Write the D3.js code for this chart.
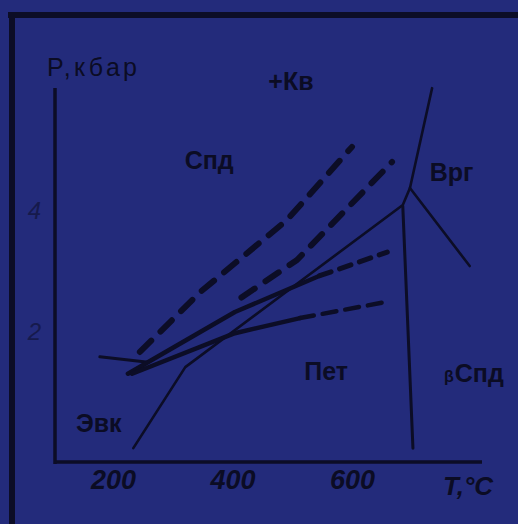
<!DOCTYPE html>
<html>
<head>
<meta charset="utf-8">
<script src="https://cdn.jsdelivr.net/npm/d3@7"></script>
<style>
  html, body { margin: 0; padding: 0; background: #232b7b; }
  svg { display: block; }
  text { font-family: "Liberation Sans", Arial, sans-serif; fill: #0b0c24; }
</style>
</head>
<body>
<svg id="chart" width="518" height="524"></svg>
<script>
// ---- data (T in °C, P in kbar) ----
const tempTicks = [200, 400, 600];
const presTicks = [2, 4];

const lineHoriz   = [[178, 1.59], [259, 1.50]];
const lineDash1   = [[245, 1.67], [346, 2.66], [491, 3.85], [600, 5.06]];
const lineDash2   = [[415, 2.57], [508, 3.19], [667, 4.81]];
const lineBound   = [[234, 0.08], [321, 1.42], [685, 4.10], [697, 4.38], [734, 6.03]];
const line4Solid  = [[225, 1.31], [404, 2.33], [546, 2.93]];
const line4Dash   = [[546, 2.93], [659, 3.32]];
const line5Solid  = [[232, 1.31], [404, 1.98], [513, 2.23]];
const line5Dash   = [[513, 2.23], [664, 2.51]];
const lineRight   = [[697, 4.38], [797, 3.09]];
const lineVert    = [[685, 4.08], [702, 0.08]];

const fieldLabels = [
  { text: "Спд", T: 320, P: 4.7 },
  { text: "Врг", T: 730, P: 4.5 },
  { text: "Пет", T: 520, P: 1.2 },
  { text: "Спд", T: 772, P: 1.17 },
  { text: "Эвк", T: 138, P: 0.35 },
  { text: "+Кв", T: 460, P: 6.0 }
];

// ---- scales ----
const svg = d3.select("#chart");
const x = d3.scaleLinear().domain([200, 600]).range([113, 352]);
const y = d3.scaleLinear().domain([0, 4]).range([453, 211]);
const plot = { left: 55, right: 482, top: 88, bottom: 462 };
const ink = "#0c0d26";

// outer photo frame
svg.append("line").attr("x1", 8).attr("x2", 518).attr("y1", 15).attr("y2", 15)
  .attr("stroke", ink).attr("stroke-width", 6);
svg.append("line").attr("x1", 12).attr("x2", 12).attr("y1", 12).attr("y2", 524)
  .attr("stroke", ink).attr("stroke-width", 6);

// axis lines
svg.append("line").attr("x1", plot.left).attr("x2", plot.left)
  .attr("y1", plot.top).attr("y2", plot.bottom + 2)
  .attr("stroke", ink).attr("stroke-width", 3.5);
svg.append("line").attr("x1", plot.left).attr("x2", plot.right)
  .attr("y1", plot.bottom).attr("y2", plot.bottom)
  .attr("stroke", ink).attr("stroke-width", 3.5);

// tick labels
const xAxis = svg.append("g").attr("transform", `translate(0,${plot.bottom})`)
  .call(d3.axisBottom(x).tickValues(tempTicks).tickSize(0).tickPadding(8).tickFormat(d3.format("d")));
xAxis.select(".domain").remove();
xAxis.selectAll("text").style("font-size", "27px").style("font-style", "italic")
  .style("font-weight", "bold").style("fill", "#0b0c24").attr("font-family", null);

const yAxis = svg.append("g").attr("transform", `translate(${plot.left},0)`)
  .call(d3.axisLeft(y).tickValues(presTicks).tickSize(0).tickPadding(14).tickFormat(d3.format("d")));
yAxis.select(".domain").remove();
yAxis.selectAll("text").style("font-size", "24px").style("font-style", "italic")
  .style("fill", "#161a4c").attr("font-family", null);

// axis titles
svg.append("text").attr("x", 47).attr("y", 76).style("font-size", "25px")
  .attr("textLength", 90).text("P,кбар");
svg.append("text").attr("x", 443).attr("y", 495).style("font-size", "26px")
  .style("font-style", "italic").style("font-weight", "bold").attr("textLength", 50).text("T,°C");

// lines
const line = d3.line().x(d => x(d[0])).y(d => y(d[1]));
function draw(data, w, dash) {
  svg.append("path").attr("d", line(data)).attr("fill", "none")
    .attr("stroke", ink).attr("stroke-width", w)
    .attr("stroke-linecap", "round").attr("stroke-linejoin", "round")
    .attr("stroke-dasharray", dash || null);
}
draw(lineHoriz, 3);
draw(lineBound, 2.6);
draw(lineRight, 2.6);
draw(lineVert, 3);
draw(line4Solid, 4.5);
draw(line4Dash, 5, "12,9");
draw(line5Solid, 4.5);
draw(line5Dash, 4.5, "14,9");
draw(lineDash1, 6, "16,13");
draw(lineDash2, 6, "16,13");

// field labels
svg.selectAll("text.field").data(fieldLabels).enter().append("text")
  .attr("class", "field")
  .attr("x", d => x(d.T)).attr("y", d => y(d.P))
  .style("font-size", "25px").style("font-weight", "bold")
  .text(d => d.text);
svg.append("text").attr("x", x(754)).attr("y", y(1.18)).style("font-size", "16px")
  .style("font-weight", "bold").text("β");
</script>
</body>
</html>
